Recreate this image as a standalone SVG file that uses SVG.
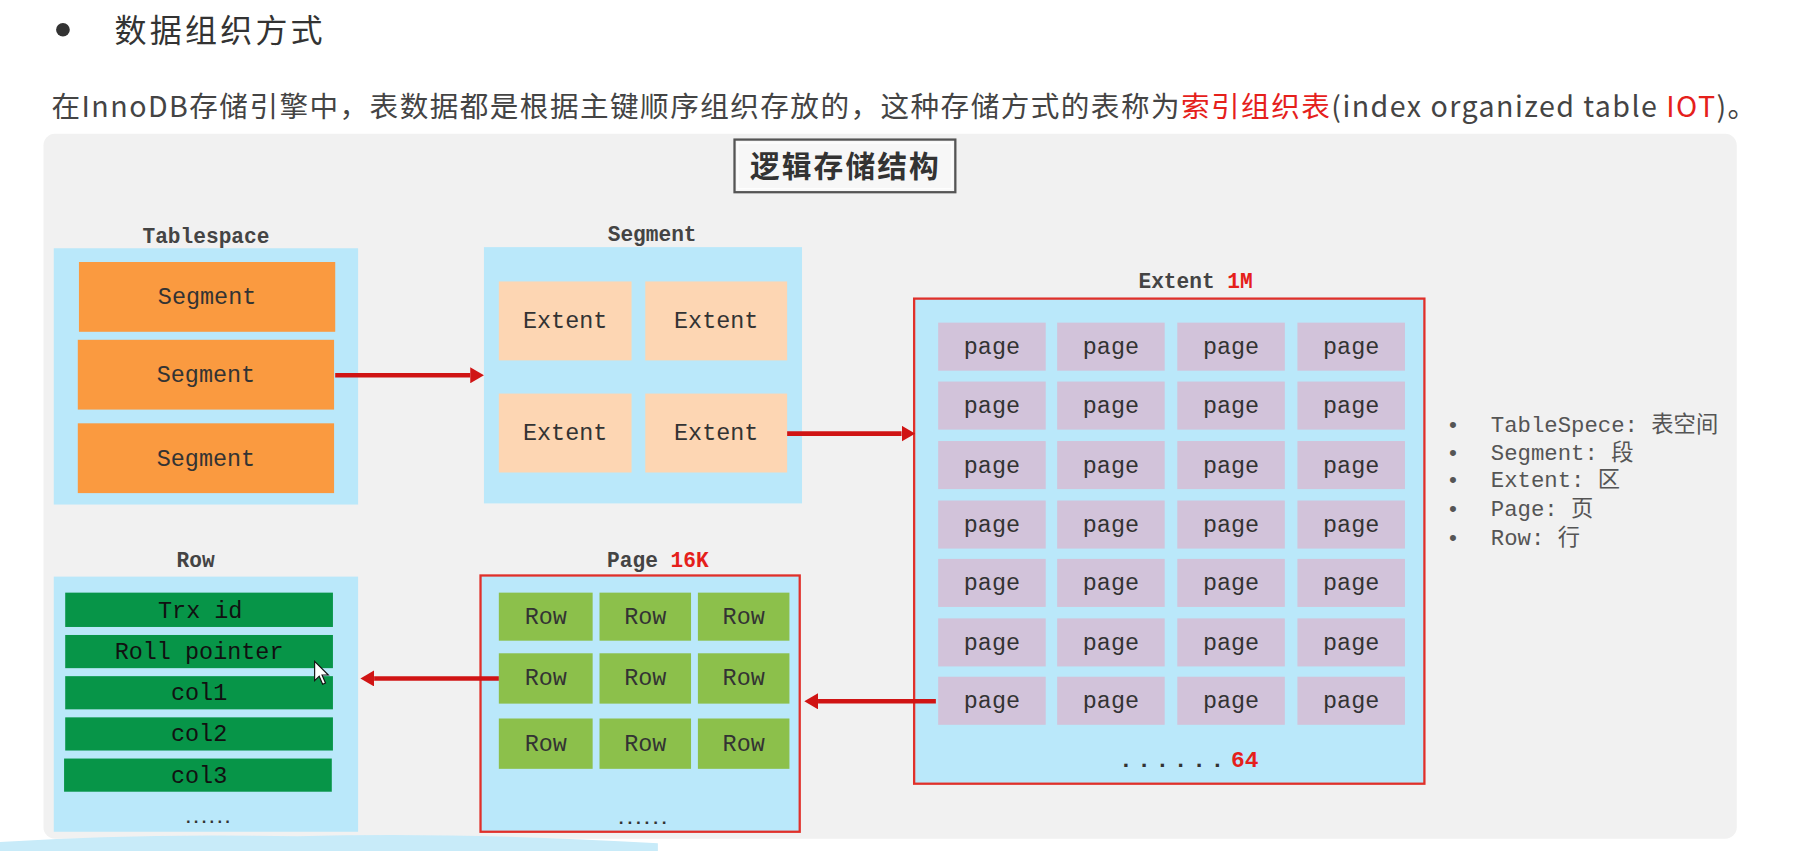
<svg xmlns="http://www.w3.org/2000/svg" width="1794" height="851" viewBox="0 0 1794 851">
<defs>
<style>
.lb{fill:#bae8fa}
.seg{fill:#fa9a40}
.ext{fill:#fdd6b3}
.pg{fill:#d2c3da}
.rw{fill:#8cc04b}
.col{fill:#079548}
.redbox{fill:#bae8fa;stroke:#e0302a;stroke-width:2}
.mono{font-family:"Liberation Mono","Courier New",monospace;fill:#333;text-anchor:middle}
.t{font-size:20.5px}
.lab{font-size:18.5px;font-weight:bold;fill:#444}
.red{fill:#e5201b}
.conn{stroke:#d01414;stroke-width:4;fill:none}
.cjk{font-family:"Noto Sans CJK SC","Noto Sans",sans-serif}
.leg{font-family:"Liberation Mono","Noto Sans CJK SC",monospace;font-size:19.5px;fill:#555}
</style>
<marker id="ah" viewBox="0 0 12 14" refX="0" refY="7" markerWidth="12" markerHeight="14" markerUnits="userSpaceOnUse" orient="auto">
<path d="M0,0 L12,7 L0,14 z" fill="#d01414"/>
</marker>
</defs>
<rect width="1794" height="851" fill="#ffffff"/>
<g transform="scale(1.1441)">
<g id="header">
<circle cx="55" cy="26" r="6" fill="#333"/>
<text x="100" y="37" class="cjk" font-size="28" fill="#333" textLength="182" lengthAdjust="spacing">数据组织方式</text>
<text x="45" y="102" class="cjk" font-size="25" fill="#444" textLength="1490" lengthAdjust="spacing">在InnoDB存储引擎中，表数据都是根据主键顺序组织存放的，这种存储方式的表称为<tspan class="red">索引组织表</tspan>(index organized table <tspan class="red">IOT</tspan>)。</text>
</g>
<g id="panel">
<rect x="38" y="117" width="1480" height="616" rx="10" fill="#f1f1f1"/>
<path d="M0,736 Q120,728 260,731 Q400,727 575,737 L575,744 L0,744 z" fill="#c8ebf9"/>
</g>
<g id="title">
<rect x="642" y="122" width="193" height="46" fill="#f7f7f7" stroke="#555" stroke-width="2"/>
<rect x="645" y="125" width="187" height="40" fill="none" stroke="#fff" stroke-width="1"/>
<text x="738" y="155" class="cjk" font-size="26" font-weight="bold" fill="#333" text-anchor="middle" textLength="165" lengthAdjust="spacing">逻辑存储结构</text>
</g>
<g id="tablespace">
<text x="180" y="212" class="mono lab">Tablespace</text>
<rect x="47" y="217" width="266" height="224" class="lb"/>
<rect x="69" y="229" width="224" height="61" class="seg"/>
<rect x="68" y="297" width="224" height="61" class="seg"/>
<rect x="68" y="370" width="224" height="61" class="seg"/>
<text x="181" y="266" class="mono t">Segment</text>
<text x="180" y="334" class="mono t">Segment</text>
<text x="180" y="407" class="mono t">Segment</text>
</g>
<g id="segment">
<text x="570" y="211" class="mono lab">Segment</text>
<rect x="423" y="216" width="278" height="224" class="lb"/>
<rect x="436" y="246" width="116" height="69" class="ext"/>
<rect x="564" y="246" width="124" height="69" class="ext"/>
<rect x="436" y="344" width="116" height="69" class="ext"/>
<rect x="564" y="344" width="124" height="69" class="ext"/>
<text x="494" y="287" class="mono t">Extent</text>
<text x="626" y="287" class="mono t">Extent</text>
<text x="494" y="385" class="mono t">Extent</text>
<text x="626" y="385" class="mono t">Extent</text>
</g>
<g id="extent">
<text x="1045" y="252" class="mono lab">Extent <tspan class="red">1M</tspan></text>
<rect x="799" y="261" width="446" height="424" class="redbox"/>
<g class="pg">
<rect x="820" y="282" width="94" height="42"/><rect x="924" y="282" width="94" height="42"/><rect x="1029" y="282" width="94" height="42"/><rect x="1134" y="282" width="94" height="42"/>
<rect x="820" y="333.5" width="94" height="42"/><rect x="924" y="333.5" width="94" height="42"/><rect x="1029" y="333.5" width="94" height="42"/><rect x="1134" y="333.5" width="94" height="42"/>
<rect x="820" y="385.5" width="94" height="42"/><rect x="924" y="385.5" width="94" height="42"/><rect x="1029" y="385.5" width="94" height="42"/><rect x="1134" y="385.5" width="94" height="42"/>
<rect x="820" y="437.5" width="94" height="42"/><rect x="924" y="437.5" width="94" height="42"/><rect x="1029" y="437.5" width="94" height="42"/><rect x="1134" y="437.5" width="94" height="42"/>
<rect x="820" y="488.5" width="94" height="42"/><rect x="924" y="488.5" width="94" height="42"/><rect x="1029" y="488.5" width="94" height="42"/><rect x="1134" y="488.5" width="94" height="42"/>
<rect x="820" y="540.5" width="94" height="42"/><rect x="924" y="540.5" width="94" height="42"/><rect x="1029" y="540.5" width="94" height="42"/><rect x="1134" y="540.5" width="94" height="42"/>
<rect x="820" y="591.5" width="94" height="42"/><rect x="924" y="591.5" width="94" height="42"/><rect x="1029" y="591.5" width="94" height="42"/><rect x="1134" y="591.5" width="94" height="42"/>
</g>
<g class="mono t">
<text x="867" y="309">page</text><text x="971" y="309">page</text><text x="1076" y="309">page</text><text x="1181" y="309">page</text>
<text x="867" y="361">page</text><text x="971" y="361">page</text><text x="1076" y="361">page</text><text x="1181" y="361">page</text>
<text x="867" y="413">page</text><text x="971" y="413">page</text><text x="1076" y="413">page</text><text x="1181" y="413">page</text>
<text x="867" y="465">page</text><text x="971" y="465">page</text><text x="1076" y="465">page</text><text x="1181" y="465">page</text>
<text x="867" y="516">page</text><text x="971" y="516">page</text><text x="1076" y="516">page</text><text x="1181" y="516">page</text>
<text x="867" y="568">page</text><text x="971" y="568">page</text><text x="1076" y="568">page</text><text x="1181" y="568">page</text>
<text x="867" y="619">page</text><text x="971" y="619">page</text><text x="1076" y="619">page</text><text x="1181" y="619">page</text>
</g>
<text x="1039" y="670" class="mono" font-size="20" font-weight="bold" fill="#111"><tspan letter-spacing="4">......</tspan><tspan class="red" dx="2">64</tspan></text>
</g>
<g id="legend" class="leg">
<text x="1264" y="378">•</text><text x="1303" y="378">TableSpece: 表空间</text>
<text x="1264" y="402">•</text><text x="1303" y="402">Segment: 段</text>
<text x="1264" y="426">•</text><text x="1303" y="426">Extent: 区</text>
<text x="1264" y="451">•</text><text x="1303" y="451">Page: 页</text>
<text x="1264" y="476">•</text><text x="1303" y="476">Row: 行</text>
</g>
<g id="page">
<text x="575" y="496" class="mono lab">Page <tspan class="red">16K</tspan></text>
<rect x="420" y="503" width="279" height="224" class="redbox"/>
<g class="rw">
<rect x="436" y="518" width="82" height="42"/><rect x="524" y="518" width="80" height="42"/><rect x="610" y="518" width="80" height="42"/>
<rect x="436" y="571" width="82" height="44"/><rect x="524" y="571" width="80" height="44"/><rect x="610" y="571" width="80" height="44"/>
<rect x="436" y="628" width="82" height="44"/><rect x="524" y="628" width="80" height="44"/><rect x="610" y="628" width="80" height="44"/>
</g>
<g class="mono t">
<text x="477" y="545">Row</text><text x="564" y="545">Row</text><text x="650" y="545">Row</text>
<text x="477" y="599">Row</text><text x="564" y="599">Row</text><text x="650" y="599">Row</text>
<text x="477" y="656">Row</text><text x="564" y="656">Row</text><text x="650" y="656">Row</text>
</g>
<text x="561" y="720" class="mono" font-size="15" font-weight="bold" fill="#111" letter-spacing="-1.5">......</text>
</g>
<g id="row">
<text x="171" y="496" class="mono lab">Row</text>
<rect x="47" y="504" width="266" height="223" class="lb"/>
<g class="col">
<rect x="57" y="518" width="234" height="30"/>
<rect x="57" y="555" width="234" height="29"/>
<rect x="57" y="591" width="234" height="29"/>
<rect x="57" y="627" width="234" height="29"/>
<rect x="56" y="663" width="234" height="29"/>
</g>
<g class="mono t">
<text x="175" y="540" fill="#111">Trx id</text>
<text x="174" y="576" fill="#111">Roll pointer</text>
<text x="174" y="612" fill="#111">col1</text>
<text x="174" y="648" fill="#111">col2</text>
<text x="174" y="684" fill="#111">col3</text>
</g>
<text x="181" y="719" class="mono" font-size="14" font-weight="bold" fill="#111" letter-spacing="-1.5">......</text>
<path d="M275,578 L275,595 L279,591 L282,598 L284.5,597 L281.5,590 L287,590 Z" fill="#fff" stroke="#111" stroke-width="1"/>
</g>
<g id="connectors">
<line x1="293" y1="328" x2="411" y2="328" class="conn" marker-end="url(#ah)"/>
<line x1="688" y1="379" x2="788" y2="379" class="conn" marker-end="url(#ah)"/>
<line x1="818" y1="613" x2="715" y2="613" class="conn" marker-end="url(#ah)"/>
<line x1="436" y1="593" x2="327" y2="593" class="conn" marker-end="url(#ah)"/>
</g>
</g>
</svg>
